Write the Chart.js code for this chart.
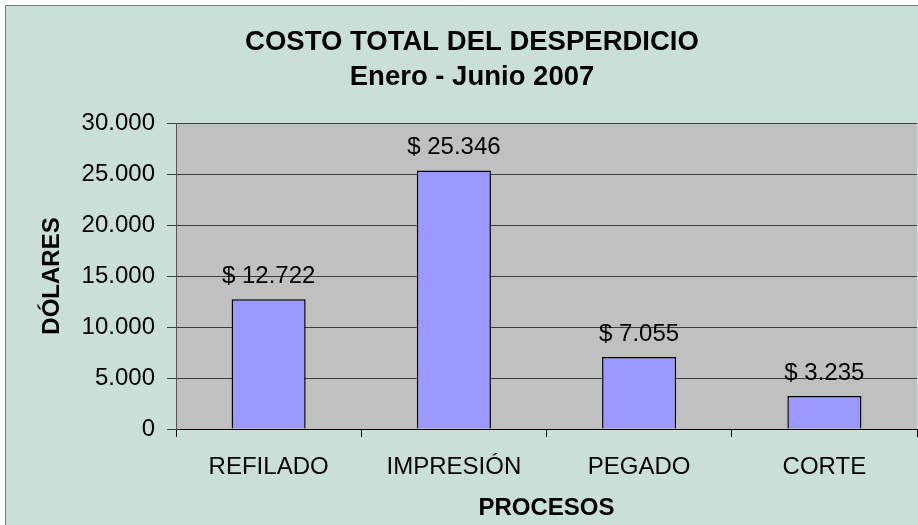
<!DOCTYPE html>
<html>
<head>
<meta charset="utf-8">
<script src="https://cdn.jsdelivr.net/npm/chart.js@4/dist/chart.umd.min.js"></script>
<style>
  html, body { margin: 0; padding: 0; background: #ffffff; }
  #wrap { width: 918px; height: 525px; position: relative; }
</style>
</head>
<body>
<div id="wrap"><canvas id="waste-chart" width="918" height="525"></canvas></div>
<script>
// Data
const processes = ['REFILADO', 'IMPRESIÓN', 'PEGADO', 'CORTE'];
const costValues = [12722, 25346, 7055, 3235];
const titleLines = ['COSTO TOTAL DEL DESPERDICIO', 'Enero - Junio 2007'];
const yAxisTitle = 'DÓLARES';
const xAxisTitle = 'PROCESOS';

const FONT = "'Liberation Sans', Arial, sans-serif";

// 12722 -> "12.722"
function formatThousands(n) {
  return String(n).replace(/\B(?=(\d{3})+(?!\d))/g, '.');
}

// Background frame + plot area fill
const backgroundPlugin = {
  id: 'backgroundFrame',
  beforeDraw(chart) {
    const ctx = chart.ctx;
    const area = chart.chartArea;
    ctx.save();
    ctx.fillStyle = '#ffffff';
    ctx.fillRect(0, 0, chart.width, chart.height);
    ctx.fillStyle = '#C9E0D8';
    ctx.fillRect(5, 5, chart.width, chart.height);
    ctx.strokeStyle = '#7a7a7a';
    ctx.lineWidth = 1;
    ctx.beginPath();
    ctx.moveTo(5.5, chart.height);
    ctx.lineTo(5.5, 5.5);
    ctx.lineTo(chart.width, 5.5);
    ctx.stroke();
    ctx.fillStyle = '#C0C0C0';
    ctx.fillRect(area.left, area.top, area.right - area.left, area.bottom - area.top);
    ctx.restore();
  }
};

// Two-line chart title
const titlePlugin = {
  id: 'twoLineTitle',
  afterDraw(chart) {
    const ctx = chart.ctx;
    ctx.save();
    ctx.fillStyle = '#000';
    ctx.font = 'bold 27.5px ' + FONT;
    ctx.textAlign = 'center';
    ctx.textBaseline = 'middle';
    ctx.fillText(titleLines[0], 472, 42);
    ctx.fillText(titleLines[1], 472, 77);
    ctx.restore();
  }
};

// Value labels above the bars
const valueLabelPlugin = {
  id: 'valueLabels',
  afterDatasetsDraw(chart) {
    const ctx = chart.ctx;
    const meta = chart.getDatasetMeta(0);
    ctx.save();
    ctx.fillStyle = '#000';
    ctx.font = '24px ' + FONT;
    ctx.textAlign = 'center';
    ctx.textBaseline = 'middle';
    meta.data.forEach((bar, i) => {
      ctx.fillText('$ ' + formatThousands(costValues[i]), bar.x, bar.y - 23);
    });
    ctx.restore();
  }
};

const ctx = document.getElementById('waste-chart');
ctx.chart = new Chart(ctx, {
  type: 'bar',
  data: {
    labels: processes,
    datasets: [{
      label: 'Costo',
      data: costValues,
      backgroundColor: '#9999FF',
      borderColor: '#000000',
      borderWidth: 1.5,
      barPercentage: 0.4,
      categoryPercentage: 1.0
    }]
  },
  options: {
    responsive: false,
    animation: false,
    layout: {
      padding: { top: 123, left: 0, right: 1, bottom: 0 }
    },
    plugins: {
      legend: { display: false },
      tooltip: { enabled: false },
      title: { display: false }
    },
    scales: {
      x: {
        afterFit(scale) { scale.height = 96; },
        grid: {
          offset: true,
          drawOnChartArea: false,
          drawTicks: true,
          tickLength: 8,
          color: '#000'
        },
        border: { display: true, color: '#000', width: 1 },
        ticks: {
          color: '#000',
          font: { family: FONT, size: 24 },
          padding: 16,
          maxRotation: 0
        },
        title: {
          display: true,
          text: xAxisTitle,
          color: '#000',
          font: { family: FONT, size: 24, weight: 'bold' },
          padding: { top: 0, bottom: 2 }
        }
      },
      y: {
        min: 0,
        max: 30000,
        afterFit(scale) { scale.width = 176; },
        grid: {
          color: '#3c3c3c',
          drawTicks: true,
          tickLength: 9
        },
        border: { display: true, color: '#555', width: 1 },
        ticks: {
          stepSize: 5000,
          color: '#000',
          font: { family: FONT, size: 24 },
          padding: 12,
          callback: (v) => formatThousands(v)
        },
        title: {
          display: true,
          text: yAxisTitle,
          color: '#000',
          font: { family: FONT, size: 24, weight: 'bold' },
          padding: { top: 38, bottom: 0 }
        }
      }
    }
  },
  plugins: [backgroundPlugin, titlePlugin, valueLabelPlugin]
});
</script>
</body>
</html>
